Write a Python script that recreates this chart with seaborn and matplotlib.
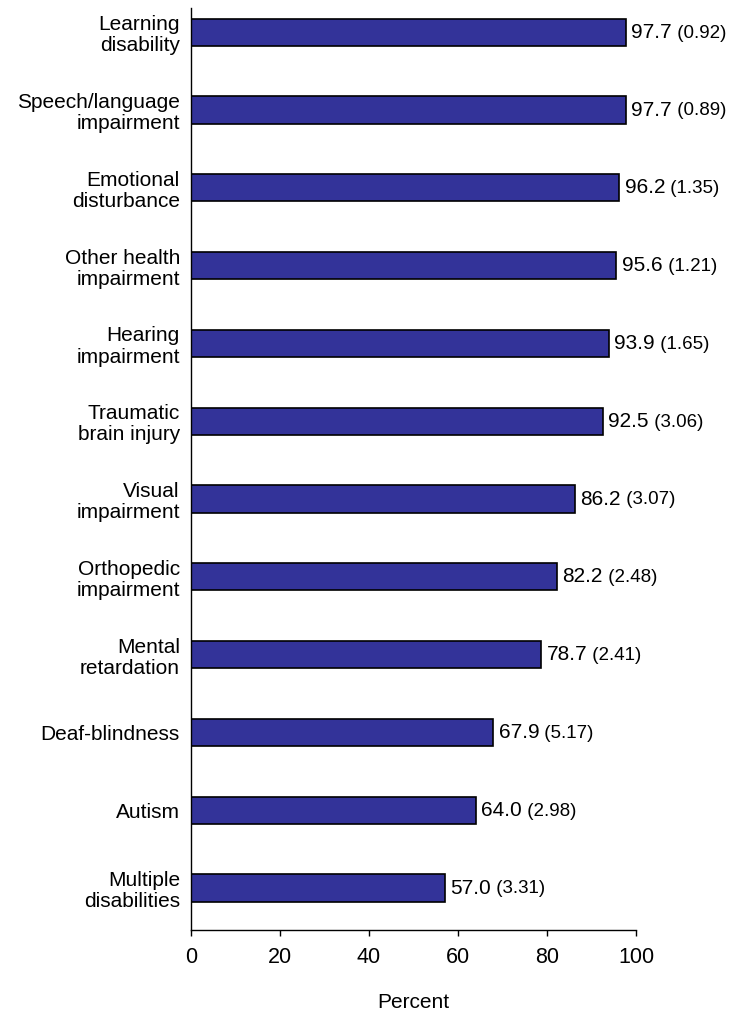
import matplotlib
matplotlib.use('Agg')
import matplotlib.pyplot as plt
import seaborn as sns
import pandas as pd

# Data
categories = ['Learning\ndisability', 'Speech/language\nimpairment', 'Emotional\ndisturbance',
              'Other health\nimpairment', 'Hearing\nimpairment', 'Traumatic\nbrain injury',
              'Visual\nimpairment', 'Orthopedic\nimpairment', 'Mental\nretardation',
              'Deaf-blindness', 'Autism', 'Multiple\ndisabilities']
percent = [97.7, 97.7, 96.2, 95.6, 93.9, 92.5, 86.2, 82.2, 78.7, 67.9, 64.0, 57.0]
std_err = [0.92, 0.89, 1.35, 1.21, 1.65, 3.06, 3.07, 2.48, 2.41, 5.17, 2.98, 3.31]

df = pd.DataFrame({'category': categories, 'percent': percent, 'se': std_err})

sns.set_style('white')
plt.rcParams['font.family'] = ['Liberation Sans', 'DejaVu Sans']
plt.rcParams['text.color'] = 'black'
plt.rcParams['xtick.color'] = 'black'
plt.rcParams['ytick.color'] = 'black'
plt.rcParams['axes.labelcolor'] = 'black'

fig = plt.figure(figsize=(7.38, 10.15), dpi=100)
ax = fig.add_axes([0.2588, 0.0837, 0.603, 0.9083])

sns.barplot(data=df, x='percent', y='category', orient='h', color='#333399',
            saturation=1, width=0.35, edgecolor='black', linewidth=1.2, ax=ax)

# value labels with standard errors
for i, (v, s) in enumerate(zip(percent, std_err)):
    t = ax.annotate(f'{v:.1f}', xy=(v, i), xytext=(4, 0), textcoords='offset points',
                    va='center', ha='left', fontsize=15)
    ax.annotate(f' ({s:.2f})', xy=(1, 0.45), xycoords=t, va='center', ha='left', fontsize=13.5)

ax.set_xlim(0, 100)
ax.set_ylim(11.54, -0.31)
ax.set_xticks([0, 20, 40, 60, 80, 100])
ax.tick_params(axis='x', direction='out', length=4, width=1, labelsize=15.5, pad=8, bottom=True)
ax.tick_params(axis='y', length=0, labelsize=15, pad=8)
ax.set_xlabel('Percent', fontsize=15, labelpad=18)
ax.set_ylabel('')
for lbl in ax.get_yticklabels():
    lbl.set_horizontalalignment('right')
    lbl.set_multialignment('right')
    lbl.set_linespacing(1.15)

sns.despine(ax=ax, top=True, right=True)
for sp in ['left', 'bottom']:
    ax.spines[sp].set_color('black')
    ax.spines[sp].set_linewidth(1)

fig.savefig('out.png', dpi=100)
